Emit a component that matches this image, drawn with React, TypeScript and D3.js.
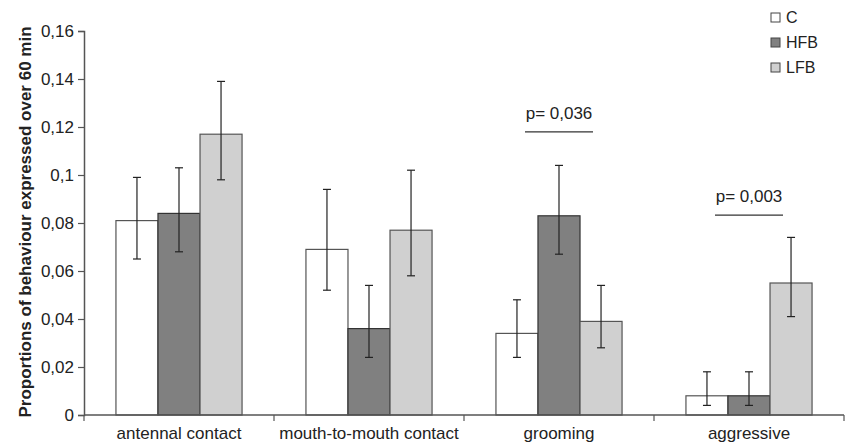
import React, { useEffect, useRef } from 'react';
import * as d3 from 'd3';

const categories = ['antennal contact', 'mouth-to-mouth contact', 'grooming', 'aggressive'];
const groups = ['C', 'HFB', 'LFB'];
const colors = ['#ffffff', '#808080', '#d0d0d0'];

// mean values per group, one entry per category
const meanC = [0.081, 0.069, 0.034, 0.008];
const meanHFB = [0.084, 0.036, 0.083, 0.008];
const meanLFB = [0.117, 0.077, 0.039, 0.055];
// error bar ends
const lowC = [0.065, 0.052, 0.024, 0.004];
const highC = [0.099, 0.094, 0.048, 0.018];
const lowHFB = [0.068, 0.024, 0.067, 0.004];
const highHFB = [0.103, 0.054, 0.104, 0.018];
const lowLFB = [0.098, 0.058, 0.028, 0.041];
const highLFB = [0.139, 0.102, 0.054, 0.074];

const yTicks = [0, 0.02, 0.04, 0.06, 0.08, 0.1, 0.12, 0.14, 0.16];

const pLabels = ['p= 0,036', 'p= 0,003'];
const pCategory = ['grooming', 'aggressive'];
const pLevel = [0.118, 0.0833];

export default function App() {
  const ref = useRef<SVGSVGElement>(null);

  useEffect(() => {
    const width = 846;
    const height = 444;
    const margin = { top: 31, right: 2, bottom: 29, left: 84 };
    const svg = d3.select(ref.current);
    svg.selectAll('*').remove();

    const x = d3.scaleBand()
      .domain(categories)
      .range([margin.left, width - margin.right]);
    const xInner = d3.scaleBand()
      .domain(groups)
      .range([0, x.bandwidth()])
      .paddingOuter(0.76);
    const y = d3.scaleLinear()
      .domain([0, 0.16])
      .range([height - margin.bottom, margin.top]);

    const means = [meanC, meanHFB, meanLFB];
    const lows = [lowC, lowHFB, lowLFB];
    const highs = [highC, highHFB, highLFB];

    const font = 'Liberation Sans, Arial, Helvetica, sans-serif';

    // bars
    const data: any[] = [];
    categories.forEach((c, i) => {
      groups.forEach((g, j) => {
        data.push({ c, g, j, v: means[j][i], lo: lows[j][i], hi: highs[j][i] });
      });
    });

    svg.append('g')
      .selectAll('rect')
      .data(data)
      .enter()
      .append('rect')
      .attr('x', d => x(d.c)! + xInner(d.g)!)
      .attr('y', d => y(d.v))
      .attr('width', xInner.bandwidth())
      .attr('height', d => y(0) - y(d.v))
      .attr('fill', d => colors[d.j])
      .attr('stroke', d => d.j === 1 ? '#333' : '#555')
      .attr('stroke-width', 1.2);

    // error bars
    const err = svg.append('g').attr('stroke', '#222').attr('stroke-width', 1.2);
    data.forEach(d => {
      const cx = x(d.c)! + xInner(d.g)! + xInner.bandwidth() / 2;
      err.append('line').attr('x1', cx).attr('x2', cx).attr('y1', y(d.hi)).attr('y2', y(d.lo));
      err.append('line').attr('x1', cx - 4).attr('x2', cx + 4).attr('y1', y(d.hi)).attr('y2', y(d.hi));
      err.append('line').attr('x1', cx - 4).attr('x2', cx + 4).attr('y1', y(d.lo)).attr('y2', y(d.lo));
    });

    // y axis
    const yAxis = svg.append('g')
      .attr('transform', `translate(${margin.left},0)`)
      .call(d3.axisLeft(y).tickValues(yTicks).tickSize(6).tickPadding(4)
        .tickFormat(d => String(d).replace('.', ',')));
    yAxis.select('.domain').attr('stroke', '#555').attr('stroke-width', 1.5);
    yAxis.selectAll('line').attr('stroke', '#555').attr('stroke-width', 1.2);
    yAxis.selectAll('text').attr('font-family', font).attr('font-size', 17).attr('fill', '#222');

    // x axis
    const xAxisG = svg.append('g').attr('transform', `translate(0,${y(0)})`);
    xAxisG.append('line')
      .attr('x1', margin.left).attr('x2', width - margin.right)
      .attr('stroke', '#555').attr('stroke-width', 1.5);
    const bounds = categories.map(c => x(c)!).concat([x(categories[categories.length - 1])! + x.bandwidth()]);
    xAxisG.selectAll('.tk')
      .data(bounds)
      .enter()
      .append('line')
      .attr('x1', d => d).attr('x2', d => d)
      .attr('y1', 0).attr('y2', 6)
      .attr('stroke', '#555').attr('stroke-width', 1.2);
    xAxisG.selectAll('.lbl')
      .data(categories)
      .enter()
      .append('text')
      .attr('x', d => x(d)! + x.bandwidth() / 2)
      .attr('y', 24)
      .attr('text-anchor', 'middle')
      .attr('font-family', font)
      .attr('font-size', 17)
      .attr('fill', '#222')
      .text(d => d);

    // y label
    svg.append('text')
      .attr('transform', `translate(31,${(y(0) + y(0.16)) / 2 - 1}) rotate(-90)`)
      .attr('text-anchor', 'middle')
      .attr('font-family', font)
      .attr('font-size', 17)
      .attr('font-weight', 'bold')
      .attr('fill', '#222')
      .text('Proportions of behaviour expressed over 60 min');

    // significance
    pLabels.forEach((t, i) => {
      const cx = x(pCategory[i])! + x.bandwidth() / 2;
      svg.append('line')
        .attr('x1', cx - 34).attr('x2', cx + 34)
        .attr('y1', y(pLevel[i])).attr('y2', y(pLevel[i]))
        .attr('stroke', '#333').attr('stroke-width', 1.2);
      svg.append('text')
        .attr('x', cx).attr('y', y(pLevel[i]) - 13)
        .attr('text-anchor', 'middle')
        .attr('font-family', font)
        .attr('font-size', 17)
        .attr('fill', '#222')
        .text(t);
    });

    // legend
    const legend = svg.append('g').attr('transform', 'translate(771,13)');
    groups.forEach((g, i) => {
      legend.append('rect')
        .attr('x', 0).attr('y', i * 25)
        .attr('width', 9).attr('height', 9)
        .attr('fill', colors[i])
        .attr('stroke', '#444').attr('stroke-width', 1);
      legend.append('text')
        .attr('x', 15).attr('y', i * 25 + 10)
        .attr('font-family', font)
        .attr('font-size', 16)
        .attr('fill', '#222')
        .text(g);
    });
  }, []);

  return (
    <svg ref={ref} width={846} height={444}
      style={{ position: 'absolute', left: 0, top: 0, background: '#fff' }} />
  );
}
